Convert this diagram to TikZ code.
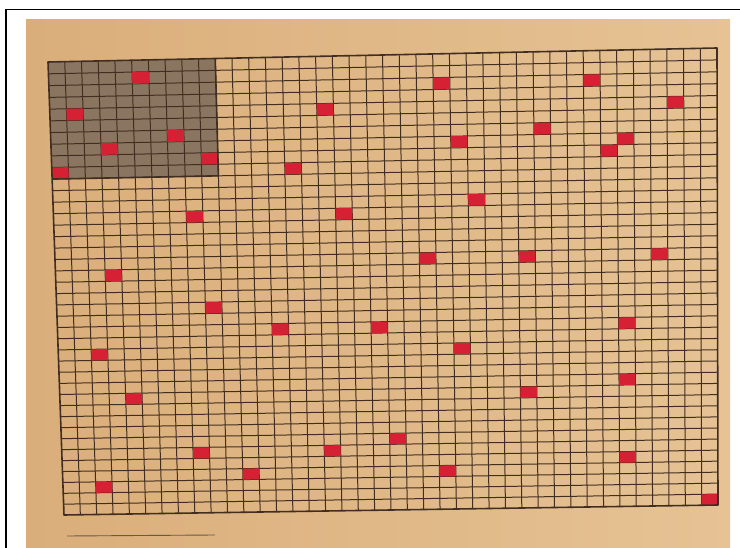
\documentclass[tikz,border=0pt]{standalone}
\usetikzlibrary{calc}
\definecolor{paperL}{RGB}{218,174,122}
\definecolor{paperR}{RGB}{230,194,148}
\definecolor{gridcol}{RGB}{66,46,32}
\definecolor{darkreg}{RGB}{138,118,96}
\definecolor{redsqc}{RGB}{214,32,52}
\begin{document}
\begin{tikzpicture}[x=1pt,y=-1pt,
  declare function={
    fv(\t)=1.045*\t-0.045*\t*\t;
    px(\u,\v)=(1-\v)*((1-\u)*48+\u*717)+\v*((1-\u)*64+\u*718);
    py(\u,\v)=(1-\v)*((1-\u)*62+\u*48)+\v*((1-\u)*515+\u*505);
  },
  gridline/.style={draw=gridcol,line width=1.0pt},
  borderline/.style={draw=gridcol,line width=1.6pt,line join=round},
  redsq/.style={fill=redsqc},
  darkfill/.style={fill=darkreg}
]
\useasboundingbox (0,0) rectangle (740,548);
\fill[white] (0,0) rectangle (740,548);
% photo background
\shade[left color=paperL,right color=paperR] (26,20) rectangle (730,548);
% frame of the page
\draw[black,line width=1.4pt] (6,548) -- (6,9.5) -- (740,9.5);
% dark region
\fill[darkfill] ({px(0,0)},{py(0,0)}) -- ({px(0.25,0)},{py(0.25,0)})
  -- ({px(0.25,fv(0.25))},{py(0.25,fv(0.25))}) -- ({px(0,fv(0.25))},{py(0,fv(0.25))}) -- cycle;
% grid lines
\foreach \k in {1,...,39} {
  \draw[gridline] ({px(\k/40,0)},{py(\k/40,0)}) -- ({px(\k/40,1)},{py(\k/40,1)});
  \draw[gridline] ({px(0,fv(\k/40))},{py(0,fv(\k/40))}) -- ({px(1,fv(\k/40))},{py(1,fv(\k/40))});
}
% red cells
\foreach \i/\j in {5/1,1/4,7/6,3/7,9/8,0/9,23/2,32/2,37/4,16/4,29/6,24/7,34/7,33/8,14/9,
  8/13,17/13,25/12,22/17,28/17,36/17,3/18,9/21,13/23,19/23,34/23,2/25,24/25,4/29,28/29,
  34/28,20/33,16/34,8/34,11/36,23/36,34/35,2/37,39/39} {
  \fill[redsq] ({px(\i/40,fv(\j/40))},{py(\i/40,fv(\j/40))})
    -- ({px((\i+1)/40,fv(\j/40))},{py((\i+1)/40,fv(\j/40))})
    -- ({px((\i+1)/40,fv((\j+1)/40))},{py((\i+1)/40,fv((\j+1)/40))})
    -- ({px(\i/40,fv((\j+1)/40))},{py(\i/40,fv((\j+1)/40))}) -- cycle;
}
% outer border of grid and dark region
\draw[borderline] ({px(0,0)},{py(0,0)}) -- ({px(1,0)},{py(1,0)}) -- ({px(1,1)},{py(1,1)}) -- ({px(0,1)},{py(0,1)}) -- cycle;
\draw[borderline] ({px(0.25,0)},{py(0.25,0)}) -- ({px(0.25,fv(0.25))},{py(0.25,fv(0.25))}) -- ({px(0,fv(0.25))},{py(0,fv(0.25))});
% short rule below the grid
\draw[draw=gridcol!80,line width=0.9pt] (67,536) -- (215,535);
\end{tikzpicture}
\end{document}
